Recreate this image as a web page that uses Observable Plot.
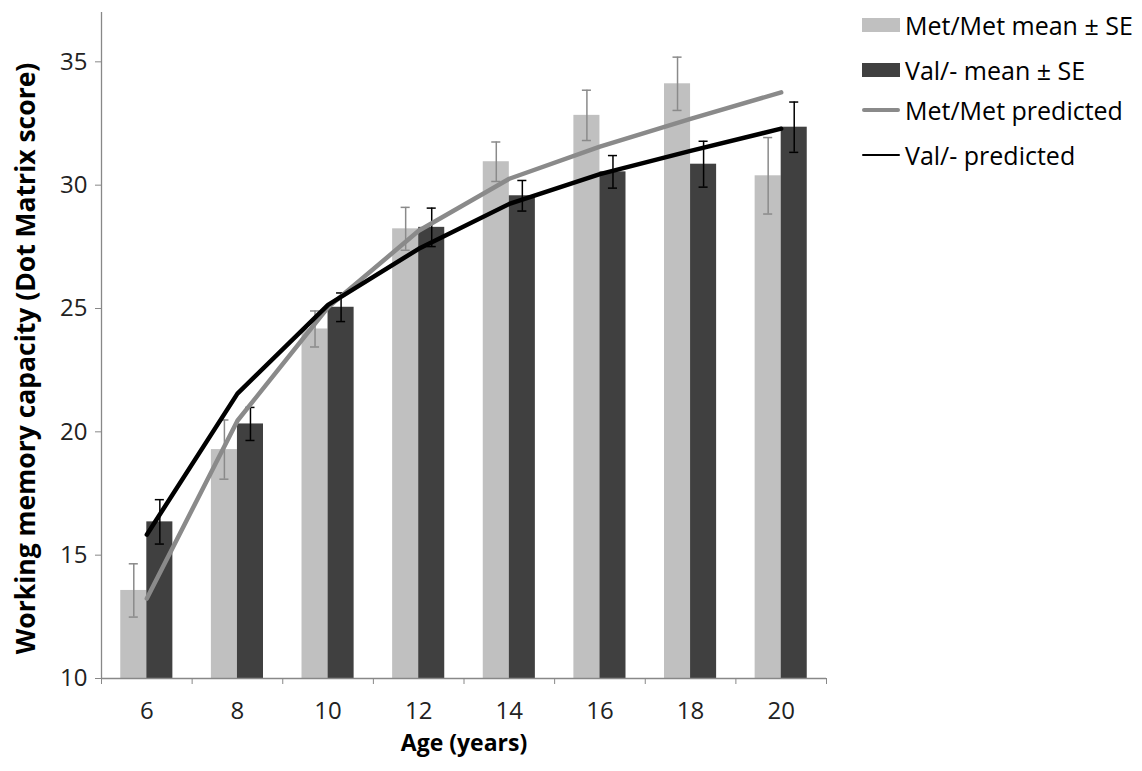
<!DOCTYPE html>
<html>
<head>
<meta charset="utf-8">
<script src="https://cdn.jsdelivr.net/npm/d3@7"></script>
<script src="https://cdn.jsdelivr.net/npm/@observablehq/plot@0.6"></script>
<style>
  html, body { margin: 0; padding: 0; background: #fff; }
  #wrap { position: relative; width: 1142px; height: 771px; font-family: "Open Sans", sans-serif; }
  #legend { position: absolute; left: 862px; top: 0; }
  .row { position: absolute; left: 0; width: 290px; height: 30px; display: flex; align-items: center; font-size: 25px; color: #000; white-space: nowrap; }
  .sw { width: 38px; margin-right: 5px; flex: none; }
</style>
</head>
<body>
<div id="wrap">
  <div id="chart"></div>
  <div id="legend"></div>
</div>
<script>
const ages = [6, 8, 10, 12, 14, 16, 18, 20];
const metMean = [13.57, 19.28, 24.17, 28.23, 30.95, 32.83, 34.11, 30.38];
const metSE = [1.08, 1.2, 0.73, 0.87, 0.8, 1.02, 1.08, 1.55];
const valMean = [16.35, 20.32, 25.05, 28.29, 29.57, 30.54, 30.85, 32.35];
const valSE = [0.9, 0.67, 0.58, 0.78, 0.62, 0.66, 0.93, 1.02];
const metPred = [13.24, 20.45, 25.05, 28.15, 30.26, 31.56, 32.69, 33.76];
const valPred = [15.83, 21.55, 25.15, 27.42, 29.24, 30.45, 31.39, 32.29];
const yTicks = [10, 15, 20, 25, 30, 35];
const seriesNames = ["Met/Met mean ± SE", "Val/- mean ± SE", "Met/Met predicted", "Val/- predicted"];
const yTitle = "Working memory capacity (Dot Matrix score)";
const xTitle = "Age (years)";

const colors = { metBar: "#c0c0c0", valBar: "#404040", metErr: "#8a8a8a", valErr: "#000000", metLine: "#8a8a8a", valLine: "#000000", axis: "#888888" };

const rows = ages.map((a, i) => ({ age: a, met: metMean[i], metSE: metSE[i], val: valMean[i], valSE: valSE[i], metPred: metPred[i], valPred: valPred[i] }));
const bounds = ages.map(a => a - 1).concat([ages[ages.length - 1] + 1]);

const bw = 0.575;   // bar width in x units (one age step = 2 units)
const cap = 0.1;    // half width of error bar caps

const chart = Plot.plot({
  width: 840,
  height: 771,
  marginLeft: 101,
  marginRight: 14,
  marginTop: 12,
  marginBottom: 93,
  style: { fontFamily: "Open Sans, sans-serif", background: "#fff" },
  x: { domain: [5, 21] },
  y: { domain: [10, 37] },
  marks: [
    Plot.rectY(rows, { x1: d => d.age - bw, x2: d => d.age, y1: () => 10, y2: "met", fill: colors.metBar }),
    Plot.rectY(rows, { x1: d => d.age, x2: d => d.age + bw, y1: () => 10, y2: "val", fill: colors.valBar }),
    // error bars
    Plot.ruleX(rows, { x: d => d.age - bw / 2, y1: d => d.met - d.metSE, y2: d => d.met + d.metSE, stroke: colors.metErr, strokeWidth: 1.5 }),
    Plot.ruleY(rows, { y: d => d.met + d.metSE, x1: d => d.age - bw / 2 - cap, x2: d => d.age - bw / 2 + cap, stroke: colors.metErr, strokeWidth: 1.5 }),
    Plot.ruleY(rows, { y: d => d.met - d.metSE, x1: d => d.age - bw / 2 - cap, x2: d => d.age - bw / 2 + cap, stroke: colors.metErr, strokeWidth: 1.5 }),
    Plot.ruleX(rows, { x: d => d.age + bw / 2, y1: d => d.val - d.valSE, y2: d => d.val + d.valSE, stroke: colors.valErr, strokeWidth: 1.5 }),
    Plot.ruleY(rows, { y: d => d.val + d.valSE, x1: d => d.age + bw / 2 - cap, x2: d => d.age + bw / 2 + cap, stroke: colors.valErr, strokeWidth: 1.5 }),
    Plot.ruleY(rows, { y: d => d.val - d.valSE, x1: d => d.age + bw / 2 - cap, x2: d => d.age + bw / 2 + cap, stroke: colors.valErr, strokeWidth: 1.5 }),
    // predicted lines
    Plot.line(rows, { x: "age", y: "metPred", stroke: colors.metLine, strokeWidth: 4.5, curve: "linear", strokeLinecap: "round", strokeLinejoin: "round" }),
    Plot.line(rows, { x: "age", y: "valPred", stroke: colors.valLine, strokeWidth: 4.5, curve: "linear", strokeLinecap: "round", strokeLinejoin: "round" }),
    // axes
    Plot.ruleX([5], { stroke: colors.axis, strokeWidth: 1.3 }),
    Plot.ruleY([10], { stroke: colors.axis, strokeWidth: 1.3 }),
    Plot.axisY({ ticks: yTicks, tickSize: 6, tickPadding: 8, stroke: colors.axis, fill: "#222", fontSize: 24, label: null }),
    Plot.axisX({ ticks: bounds, tickSize: 6, tickFormat: () => "", stroke: colors.axis, label: null }),
    Plot.axisX({ ticks: ages, tickSize: 0, tickPadding: 23, fill: "#222", fontSize: 24, label: null }),
    Plot.text([yTitle], { frameAnchor: "left", dx: -75, dy: 13, rotate: -90, textAnchor: "middle", fontSize: 26.5, fontWeight: "bold", fill: "#000" }),
    Plot.text([xTitle], { frameAnchor: "bottom", dy: 72, fontSize: 23, fontWeight: "bold", fill: "#000" })
  ]
});
document.getElementById("chart").appendChild(chart);

// legend
const legend = document.getElementById("legend");
const legendItems = [
  { name: seriesNames[0], kind: "box", color: colors.metBar, top: 10 },
  { name: seriesNames[1], kind: "box", color: colors.valBar, top: 55 },
  { name: seriesNames[2], kind: "line", color: colors.metLine, width: 4, top: 95 },
  { name: seriesNames[3], kind: "line", color: colors.valLine, width: 2, top: 140 }
];
for (const it of legendItems) {
  const row = document.createElement("div");
  row.className = "row";
  row.style.top = it.top + "px";
  const sw = document.createElement("div");
  sw.className = "sw";
  if (it.kind === "box") { sw.style.height = "14px"; sw.style.background = it.color; }
  else { sw.style.height = it.width + "px"; sw.style.background = it.color; sw.style.borderRadius = "2px"; }
  row.appendChild(sw);
  const t = document.createElement("span");
  t.textContent = it.name;
  row.appendChild(t);
  legend.appendChild(row);
}
</script>
</body>
</html>
